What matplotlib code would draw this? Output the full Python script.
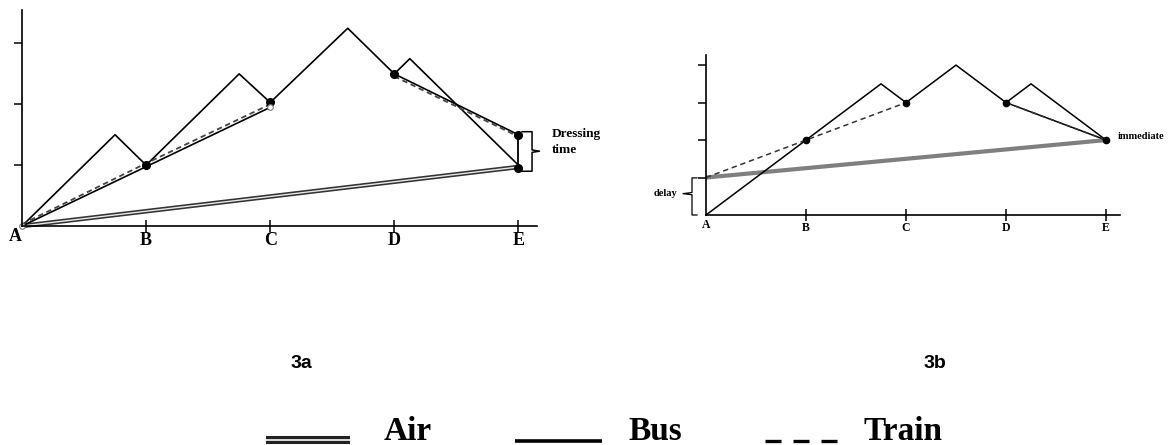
import matplotlib
matplotlib.use("Agg")
import matplotlib.pyplot as plt

W, H = 1175, 445

# ---- data (x: A=0 .. E=4) ----
stops = ["A", "B", "C", "D", "E"]

# 3a
a_bus_x = [0, 0.75, 1, 1.75, 2, 2.625, 3, 3.125, 4]
a_bus_y = [0, 1.5, 1.0, 2.5, 2.03, 3.25, 2.5, 2.75, 1.0]
a_direct_x = [0, 2, None, 3, 4]
a_direct_y = [0, 1.95, None, 2.5, 1.5]
a_train_x = [0, 1, 2, None, 3, 4]
a_train_y = [0.03, 1.03, 2.0, None, 2.46, 1.47]
a_air_x = [0, 4]
a_air_y = [0, 0.97]
a_pts_x = [1, 2, 3, 4, 4]
a_pts_y = [1.0, 2.03, 2.5, 1.5, 0.95]

# 3b
b_bus_x = [0, 1.75, 2, 2.5, 3, 3.25, 4]
b_bus_y = [0, 3.5, 3.0, 4.0, 3.0, 3.5, 2.0]
b_train_x = [0, 1, 2, None, 3, 4]
b_train_y = [1.0, 2.0, 3.0, None, 3.0, 2.0]
b_air_x = [0, 4]
b_air_y = [1.0, 2.0]
b_pts_x = [1, 2, 3, 4]
b_pts_y = [2.0, 3.0, 3.0, 2.0]

SERIF = "Liberation Serif"


def clean(xs, ys):
    # None breaks a polyline into pieces
    return [float("nan") if v is None else v for v in xs], \
           [float("nan") if v is None else v for v in ys]


def make_axes(fig, left, right, top, bottom, xmax, ymax, yticks, fs, tlen):
    ax = fig.add_axes([left / W, 1 - bottom / H, (right - left) / W, (bottom - top) / H])
    ax.set_xlim(0, xmax)
    ax.set_ylim(0, ymax)
    for s in ["top", "right"]:
        ax.spines[s].set_visible(False)
    for s in ["left", "bottom"]:
        ax.spines[s].set_linewidth(1.2)
    ax.set_yticks(yticks)
    ax.set_yticklabels([])
    ax.tick_params(axis="y", direction="out", length=6, width=1.1)
    ax.set_xticks(range(1, 5))
    ax.set_xticklabels(stops[1:], fontfamily=SERIF, fontweight="bold", fontsize=fs)
    ax.tick_params(axis="x", direction="inout", length=tlen, width=1.1, pad=0.5)
    ax.patch.set_alpha(0)
    return ax


fig = plt.figure(figsize=(W / 100, H / 100), dpi=100)

# ---------- 3a ----------
ax = make_axes(fig, 22, 537, 10, 226, 4.15, 3.55, [1, 2, 3], 13, 8)
ax.text(-0.05, -0.03, "A", fontfamily=SERIF, fontweight="bold", fontsize=13,
        ha="center", va="top", clip_on=False)
x, y = clean(a_air_x, a_air_y)
ax.plot(x, y, color="#333333", lw=3.3, solid_capstyle="butt", clip_on=False)
ax.plot(x, y, color="#e8e8e8", lw=1.0, solid_capstyle="butt", clip_on=False)
ax.plot(a_bus_x, a_bus_y, color="black", lw=1.2, clip_on=False)
x, y = clean(a_direct_x, a_direct_y)
ax.plot(x, y, color="black", lw=1.2, clip_on=False)
x, y = clean(a_train_x, a_train_y)
ax.plot(x, y, color="#444444", lw=1.3, dashes=(3, 2), clip_on=False)
ax.plot(a_pts_x, a_pts_y, "o", color="black", ms=5.5, clip_on=False)
ax.plot([0, 2], [0, 1.95], "o", mfc="white", mec="#777777", ms=4, mew=0.8, clip_on=False)
# dressing time span at E
ax.plot([4, 4], [0.95, 1.5], color="black", lw=1.3, clip_on=False)
bx, tip = 4.11, 4.17
ax.plot([4.03, bx, bx, tip, bx, bx, 4.03],
        [1.55, 1.55, 1.25, 1.23, 1.21, 0.9, 0.9],
        color="black", lw=1.1, clip_on=False)
ax.text(4.27, 1.38, "Dressing\ntime", fontfamily=SERIF, fontweight="bold",
        fontsize=9.5, ha="left", va="center", linespacing=1.45, clip_on=False)

# ---------- 3b ----------
ax = make_axes(fig, 706, 1120, 55, 215, 4.14, 4.27, [1, 2, 3, 4], 8.5, 9)
ax.text(0, -0.12, "A", fontfamily=SERIF, fontweight="bold", fontsize=8.5,
        ha="center", va="top", clip_on=False)
ax.plot(b_air_x, b_air_y, color="#7f7f7f", lw=3.0, solid_capstyle="butt", clip_on=False)
ax.plot(b_bus_x, b_bus_y, color="black", lw=1.1, clip_on=False)
ax.plot([3, 4], [3.0, 2.0], color="black", lw=1.1, clip_on=False)
x, y = clean(b_train_x, b_train_y)
ax.plot(x, y, color="#333333", lw=1.1, dashes=(3.5, 2.5), clip_on=False)
ax.plot(b_pts_x, b_pts_y, "o", color="black", ms=4.5, clip_on=False)
bx, tip = -0.14, -0.23
ax.plot([-0.09, bx, bx, tip, bx, bx, -0.09],
        [0.99, 0.99, 0.6, 0.57, 0.54, 0.0, 0.0],
        color="black", lw=0.9, clip_on=False)
ax.text(-0.29, 0.57, "delay", fontfamily=SERIF, fontweight="bold", fontsize=7.5,
        ha="right", va="center", clip_on=False)
ax.text(4.12, 2.1, "immediate", fontfamily=SERIF, fontweight="bold", fontsize=7.5,
        ha="left", va="center", clip_on=False)

# ---------- captions and key ----------
ov = fig.add_axes([0, 0, 1, 1])
ov.set_xlim(0, W)
ov.set_ylim(H, 0)
ov.axis("off")
ov.patch.set_alpha(0)
ov.text(301, 364, "3a", fontfamily="Liberation Sans", fontweight="bold", fontsize=14,
        ha="center", va="center")
ov.text(935, 364, "3b", fontfamily="Liberation Sans", fontweight="bold", fontsize=14,
        ha="center", va="center")

ov.plot([266, 350], [440, 440], color="#222222", lw=5.8, solid_capstyle="butt")
ov.plot([266, 350], [440, 440], color="#dddddd", lw=1.4, solid_capstyle="butt")
ov.text(384, 440, "Air", fontfamily=SERIF, fontweight="bold", fontsize=24,
        ha="left", va="baseline")
ov.plot([515, 602], [441, 441], color="black", lw=2.6, solid_capstyle="butt")
ov.text(628, 440, "Bus", fontfamily=SERIF, fontweight="bold", fontsize=24,
        ha="left", va="baseline")
ov.plot([765, 837], [441, 441], color="black", lw=2.4, dashes=(4.8, 3.6),
        solid_capstyle="butt")
ov.text(864, 440, "Train", fontfamily=SERIF, fontweight="bold", fontsize=24,
        ha="left", va="baseline")

fig.savefig("out.png", dpi=100)
